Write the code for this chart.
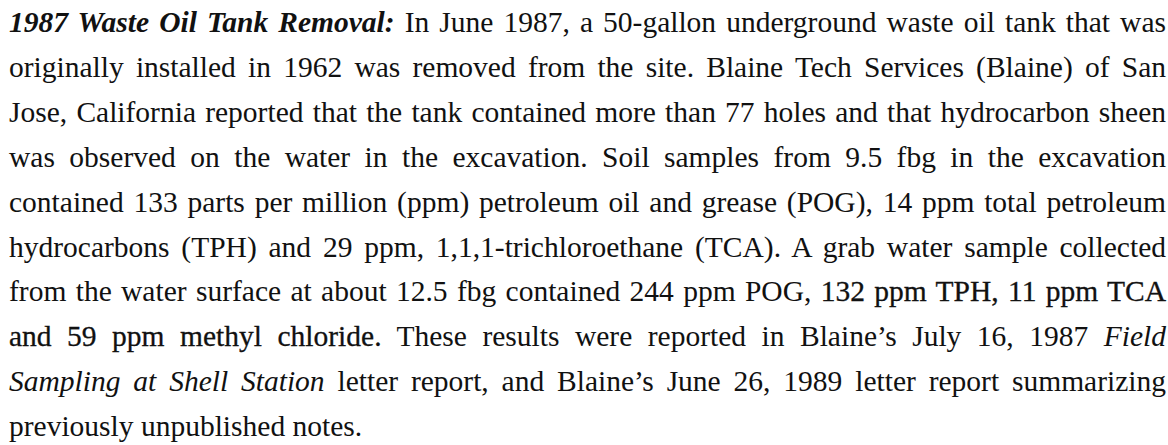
import React from "react";

// Each line of the paragraph as segments: [text, style]
// style: "n" normal, "d" dark (heavier print), "i" italic, "bi" bold italic
type Seg = [string, string];

const line1: Seg[] = [["1987 Waste Oil Tank Removal:", "bi"], ["  In June 1987, a 50-gallon underground waste oil tank that was", "n"]];
const line2: Seg[] = [["originally installed in 1962 was removed from the site.  Blaine Tech Services (Blaine) of San", "n"]];
const line3: Seg[] = [["Jose, California reported that the tank contained more than 77 holes and that hydrocarbon sheen", "n"]];
const line4: Seg[] = [["was observed on the water in the excavation.  Soil samples from 9.5 fbg in the excavation", "n"]];
const line5: Seg[] = [["contained 133 parts per million (ppm) petroleum oil and grease (POG), 14 ppm total petroleum", "n"]];
const line6: Seg[] = [["hydrocarbons (TPH) and 29 ppm, 1,1,1-trichloroethane (TCA).  A grab water sample collected", "n"]];
const line7: Seg[] = [["from the water surface at about 12.5 fbg contained 244 ppm POG, ", "n"], ["132 ppm TPH, 11 ppm TCA", "d"]];
const line8: Seg[] = [["and 59 ppm methyl chloride.", "d"], ["  These results were reported in Blaine\u2019s July 16, 1987 ", "n"], ["Field", "i"]];
const line9: Seg[] = [["Sampling at Shell Station", "i"], [" letter report, and Blaine\u2019s June 26, 1989 letter report summarizing", "n"]];
const line10: Seg[] = [["previously unpublished notes.", "n"]];

const lines: Seg[][] = [line1, line2, line3, line4, line5, line6, line7, line8, line9, line10];

const FONT_SIZE = 29.5;
const LINE_H = 44.9;

function segStyle(s: string): React.CSSProperties {
  const st: React.CSSProperties = {
    fontWeight: s.includes("b") ? "bold" : "normal",
    fontStyle: s.includes("i") ? "italic" : "normal",
  };
  if (s === "d") {
    (st as any).WebkitTextStroke = "0.3px #111111";
  }
  return st;
}

export default function App() {
  return (
    <div
      style={{
        position: "absolute",
        left: 0,
        top: 0,
        width: 1168,
        height: 445,
        background: "#ffffff",
        overflow: "hidden",
        fontFamily: '"Liberation Serif", "Times New Roman", serif',
        fontSize: FONT_SIZE,
        color: "#111111",
      }}
    >
      {lines.map((segs, i) => {
        const last = i === lines.length - 1;
        return (
          <div
            key={i}
            style={{
              position: "absolute",
              left: 9,
              top: i * LINE_H,
              width: 1157,
              height: LINE_H,
              lineHeight: `${LINE_H}px`,
              whiteSpace: "nowrap",
              textAlign: last ? "left" : "justify",
              textAlignLast: last ? "left" : "justify",
            }}
          >
            {segs.map((seg, j) => (
              <span key={j} style={segStyle(seg[1])}>
                {seg[0]}
              </span>
            ))}
          </div>
        );
      })}
    </div>
  );
}
